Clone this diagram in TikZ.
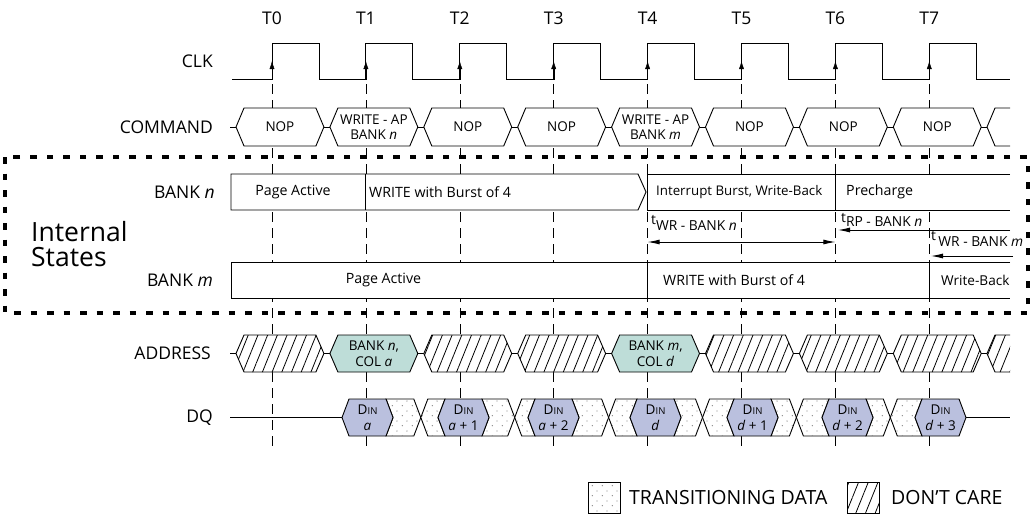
\documentclass[tikz,border=0pt]{standalone}
\usepackage{fontspec}
\setmainfont{Open Sans}
\usetikzlibrary{arrows.meta,patterns.meta}

\definecolor{addrteal}{RGB}{190,221,216}
\definecolor{dinblue}{RGB}{186,192,222}

\tikzdeclarepattern{
  name=tdots,
  type=uncolored,
  bounding box={(0pt,0pt) and (10pt,10pt)},
  tile size={(10pt,10pt)},
  code={
    \fill (2.5pt,2.5pt) circle[radius=0.75pt];
    \fill (7.5pt,7.5pt) circle[radius=0.75pt];
  }
}

\newcommand{\din}{D\kern0.3pt{\fontsize{9.5}{10}\selectfont IN}}

\tikzset{
  sig/.style={line width=0.9pt},
  tline/.style={line width=0.6pt, dash pattern=on 10pt off 6pt},
  rowlbl/.style={anchor=east, font=\fontsize{17.5}{18}\selectfont},
  boxtxt/.style={font=\fontsize{14.2}{16}\selectfont},
  celltxt/.style={font=\fontsize{13.5}{15.5}\selectfont, align=center},
  tmtxt/.style={anchor=west, font=\fontsize{13.8}{15}\selectfont},
  hatchcell/.style={fill=white, postaction={pattern={Lines[angle=68,distance=9pt,line width=0.8pt]}}},
  dotcell/.style={fill=white, postaction={pattern=tdots, pattern color=black!45}},
  tarrow/.style={line width=0.9pt, -{Latex[length=12pt,width=5pt]}},
  every node/.style={inner sep=0pt},
}

\begin{document}
\begin{tikzpicture}[x=1pt,y=-1pt]
\useasboundingbox (0,0) rectangle (1032,517);

% clock edges, T labels and dashed lines
\foreach \k in {0,...,7}{
  \pgfmathsetmacro{\tx}{272+93.9*\k}
  \pgfmathsetmacro{\tend}{min(\tx+93.9,1010)}
  \node[font=\fontsize{17.5}{18}\selectfont] (tl\k) at (\tx,18) {T\k};
  \draw[tline] (\tx,84) -- (\tx,447);
  \draw[sig] (\tx,79.5) -- (\tx,43) -- (\tx+46.95,43) -- (\tx+46.95,79.5) -- (\tend,79.5);
  \draw[-{Latex[length=8pt,width=5pt]}] (\tx,79.5) -- (\tx,61);
}
\draw[sig] (232,79.5) -- (272,79.5);

% labels
\node[rowlbl] (clk) at (213,61) {CLK};
\node[rowlbl] (cmd) at (213,127) {COMMAND};
\node[rowlbl] (bankn) at (215,192) {BANK \textit{n}};
\node[rowlbl] (bankm) at (213,280) {BANK \textit{m}};
\node[rowlbl] (addr) at (211,353.5) {ADDRESS};
\node[rowlbl] (dq) at (213,417.5) {DQ};

% command bus
\foreach \k/\txt in {0/NOP, 1/{WRITE - AP\\BANK \textit{n}}, 2/NOP, 3/NOP,
    4/{WRITE - AP\\BANK \textit{m}}, 5/NOP, 6/NOP, 7/NOP}{
  \pgfmathsetmacro{\xa}{233+93.9*\k+3}
  \pgfmathsetmacro{\xb}{233+93.9*(\k+1)-3}
  \draw[sig] (\xa-6,127) -- (\xa,127);
  \draw[sig, fill=white] (\xa,127) -- (\xa+8,108) -- (\xb-8,108) -- (\xb,127)
    -- (\xb-8,146) -- (\xa+8,146) -- cycle;
  \node[celltxt] (cmd\k) at ({(\xa+\xb)/2},127) {\txt};
}
\draw[sig] (981,127) -- (987,127);
\draw[sig, fill=white] (1010,108) -- (995,108) -- (987,127) -- (995,146) -- (1010,146);

% internal states box
\draw[line width=4.5pt, dash pattern=on 6.5pt off 10pt] (5,157) rectangle (1028,313);
\node[anchor=west, font=\fontsize{26.5}{27}\selectfont] (intl) at (31,232) {Internal};
\node[anchor=west, font=\fontsize{26.5}{27}\selectfont] (stat) at (31,257) {States};

% bank n
\draw[sig, fill=white] (231,174) -- (638,174) -- (646,192) -- (638,210) -- (231,210) -- cycle;
\draw[sig] (365.9,174) -- (365.9,210);
\draw[sig, fill=white] (1010,174) -- (647.6,174) -- (647.6,210) -- (1010,210);
\draw[sig] (835.4,174) -- (835.4,210);
\node[boxtxt] (pan) at (293,192) {Page Active};
\node[boxtxt, anchor=west] (wrn) at (369,192) {WRITE with Burst of 4};
\node[boxtxt, anchor=west, font=\fontsize{13.3}{16}\selectfont] (ibw) at (656,192) {Interrupt Burst, Write-Back};
\node[boxtxt, anchor=west] (pre) at (846,192) {Precharge};

% bank m
\draw[sig, fill=white] (1010,262) -- (231,262) -- (231,298) -- (1010,298);
\draw[sig] (647.6,262) -- (647.6,298);
\draw[sig] (929.3,262) -- (929.3,298);
\node[boxtxt] (pam) at (383.5,280) {Page Active};
\node[boxtxt, anchor=west] (wrm) at (663,280) {WRITE with Burst of 4};
\node[boxtxt, anchor=west, font=\fontsize{13.6}{16}\selectfont] (wbm) at (941,280) {Write-Back};

% timing
\coordinate (wrna) at (647.6,242);
\coordinate (wrnb) at (835.4,242);
\coordinate (rpa) at (1010,230);
\coordinate (rpb) at (838,230);
\coordinate (wrma) at (1013,256);
\coordinate (wrmb) at (931,256);
\draw[tarrow, {Latex[length=12pt,width=5pt]}-{Latex[length=12pt,width=5pt]}] (wrna) -- (wrnb);
\draw[tarrow] (rpa) -- (rpb);
\draw[tarrow] (wrma) -- (wrmb);
\node[tmtxt] (twrn) at (651,223) {t\raisebox{-0.4em}{WR - BANK \textit{n}}};
\node[tmtxt] (trpn) at (841,220) {t\raisebox{-0.3em}{RP - BANK \textit{n}}};
\node[tmtxt] (twrm) at (931,239) {t\,\raisebox{-0.4em}{WR - BANK \textit{m}}};

% address bus
\draw[sig] (230,353.5) -- (236,353.5);
\foreach \k in {0,2,3,5,6,7}{
  \pgfmathsetmacro{\xa}{233+93.9*\k+3}
  \pgfmathsetmacro{\xb}{233+93.9*(\k+1)-3}
  \draw[sig] (\xa-6,353.5) -- (\xa,353.5);
  \draw[sig, hatchcell] (\xa,353.5) -- (\xa+8,335) -- (\xb-8,335) -- (\xb,353.5)
    -- (\xb-8,372) -- (\xa+8,372) -- cycle;
}
\foreach \k/\txt in {1/{BANK \textit{n},\\COL \textit{a}}, 4/{BANK \textit{m},\\COL \textit{d}}}{
  \pgfmathsetmacro{\xa}{233+93.9*\k+3}
  \pgfmathsetmacro{\xb}{233+93.9*(\k+1)-3}
  \draw[sig] (\xa-6,353.5) -- (\xa,353.5);
  \draw[sig, fill=addrteal] (\xa,353.5) -- (\xa+8,335) -- (\xb-8,335) -- (\xb,353.5)
    -- (\xb-8,372) -- (\xa+8,372) -- cycle;
  \node[celltxt] (adr\k) at ({(\xa+\xb)/2},353.5) {\txt};
}
\draw[sig] (981,353.5) -- (987,353.5);
\draw[sig, hatchcell] (1010,335) -- (995,335) -- (987,353.5) -- (995,372) -- (1010,372);

% dq bus
\draw[sig] (230,417.5) -- (342,417.5);
\foreach \r/\b/\l in {393/420.8/438, 489/514.7/528, 579/608.6/630, 681/702.5/727,
    778/796.4/822, 873/890.3/915}{
  \draw[sig, dotcell] (\r-7,399) -- (\b-7,399) -- (\b,417.5) -- (\b-7,436)
    -- (\r-7,436) -- (\r,417.5) -- cycle;
  \draw[sig, dotcell] (\b,417.5) -- (\b+7,399) -- (\l+7,399) -- (\l,417.5)
    -- (\l+7,436) -- (\b+7,436) -- cycle;
}
\foreach \l/\v [count=\i] in {342/{\textit{a}}, 438/{\textit{a} + 1}, 528/{\textit{a} + 2},
    630/{\textit{d}}, 727/{\textit{d} + 1}, 822/{\textit{d} + 2}, 915/{\textit{d} + 3}}{
  \draw[sig, fill=dinblue] (\l,417.5) -- (\l+7,399) -- (\l+44,399) -- (\l+51,417.5)
    -- (\l+44,436) -- (\l+7,436) -- cycle;
  \node[celltxt] (din\i) at (\l+25.5,417.5) {\din\\\v};
}
\draw[sig] (966,417.5) -- (1010,417.5);

% legend
\draw[sig, dotcell] (588,482) rectangle (620,513);
\node[anchor=west, font=\fontsize{19.5}{20}\selectfont] (legtd) at (629,497.5) {TRANSITIONING DATA};
\draw[sig, hatchcell] (847,482) rectangle (879,513);
\node[anchor=west, font=\fontsize{19.5}{20}\selectfont] (legdc) at (891,497.5) {DON’T CARE};
\end{tikzpicture}
\end{document}
